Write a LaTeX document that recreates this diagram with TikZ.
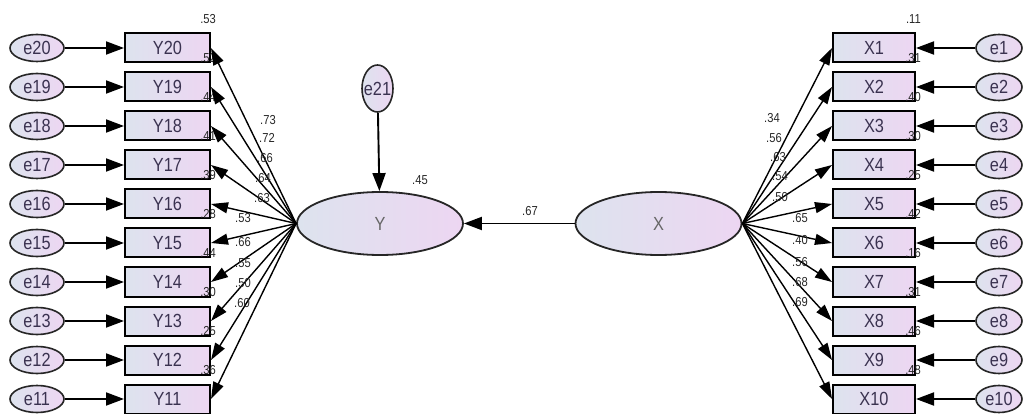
\documentclass[tikz,border=0pt]{standalone}
\usepackage{fontspec}
\newfontfamily\amosfont[FakeStretch=0.86]{Liberation Sans}
\usetikzlibrary{shapes.geometric, arrows.meta, positioning}
\definecolor{amosleft}{HTML}{DDE3EE}
\definecolor{amosright}{HTML}{EDD6F2}
\definecolor{amostext}{HTML}{3A3250}

\begin{document}
\begin{tikzpicture}[
        x=1pt, y=-1pt,
        obsbox/.style={
            rectangle,
            draw=black,
            line width=2pt,
            left color=amosleft,
            right color=amosright,
            minimum width=85pt,
            minimum height=29pt,
            inner sep=0pt,
            text=amostext,
            font=\amosfont\fontsize{19}{19}\selectfont
        },
        errnode/.style={
            ellipse,
            draw=black!85,
            line width=1.6pt,
            left color=amosleft,
            right color=amosright,
            minimum width=54pt,
            minimum height=27pt,
            inner sep=0pt,
            text=amostext,
            font=\amosfont\fontsize{19}{19}\selectfont
        },
        latent/.style={
            ellipse,
            draw=black!85,
            line width=1.8pt,
            left color=amosleft,
            right color=amosright,
            minimum width=166pt,
            minimum height=63pt,
            inner sep=0pt,
            text=black!60,
            font=\amosfont\fontsize{19}{19}\selectfont
        },
        coef/.style={
            inner sep=0pt,
            text=black!85,
            font=\amosfont\fontsize{13}{13}\selectfont
        },
        arrow/.style={
            line width=1.9pt,
            -{Triangle[length=18pt, width=13pt]}
        },
        load/.style={
            line width=1.4pt,
            -{Triangle[length=17pt, width=11pt]}
        }
        ]

        \useasboundingbox (0,0) rectangle (1023,414);

        % latent variables
        \node (Y) [latent] at (380,223.5) {Y};
        \node (X) [latent] at (658.5,223.5) {X};
        \node (e21) [errnode, minimum width=31pt, minimum height=47pt] at (377.5,88.5) {\makebox[0pt]{e21}};

        % indicators of Y
        \foreach \i [evaluate=\i as \yy using 48+(20-\i)*39] in {11,...,20} {
            \node (y\i) [obsbox] at (167.5,\yy) {Y\i};
            \node (e\i) [errnode] at (37,\yy) {e\i};
        }
        % indicators of X
        \foreach \i [evaluate=\i as \yy using 48+(\i-1)*39] in {1,...,10} {
            \node (x\i) [obsbox, minimum width=82pt] at (874,\yy) {X\i};
            \node (e\i) [errnode, minimum width=46pt] at (999,\yy) {e\i};
        }

        % squared multiple correlations
        \foreach \i/\r in {20/.53, 19/.52, 18/.44, 17/.41, 16/.39, 15/.28, 14/.44, 13/.30, 12/.25, 11/.36}
            \node (ry\i) [coef, anchor=south east] at ([shift={(5,-9)}]y\i.north east) {\r};
        \foreach \i/\r in {1/.11, 2/.31, 3/.40, 4/.30, 5/.25, 6/.42, 7/.16, 8/.31, 9/.46, 10/.48}
            \node (rx\i) [coef, anchor=south east] at ([shift={(5,-9)}]x\i.north east) {\r};
        \node (ryy) [coef] at (420,180) {.45};

        % loadings
        \foreach \i/\l/\px/\py in {20/.73/268/120, 19/.72/267/138, 18/.66/265/158, 17/.64/263/178, 16/.63/262/198,
                15/.53/243/218, 14/.66/243/242, 13/.55/243/263, 12/.50/243/283, 11/.60/242/303} {
            \draw [load] (Y.west) -- (y\i.east);
            \node (ly\i) [coef] at (\px,\py) {\l};
        }
        \foreach \i/\l/\px/\py in {1/.34/772/118, 2/.56/774/138, 3/.63/778/157, 4/.54/780/176, 5/.50/780/197,
                6/.65/800/218, 7/.40/800/240, 8/.56/800/262, 9/.68/800/282, 10/.69/800/302} {
            \draw [load] (X.east) -- (x\i.west);
            \node (lx\i) [coef] at (\px,\py) {\l};
        }

        % errors
        \foreach \i in {11,...,20}
            \draw [arrow] (e\i) -- (y\i);
        \foreach \i in {1,...,10}
            \draw [arrow] (e\i) -- (x\i);
        \draw [arrow] (e21) -- (Y);

        % structural path
        \draw [arrow] (X) -- (Y);
        \node (pxy) [coef] at (530,211) {.67};

    \end{tikzpicture}
\end{document}
